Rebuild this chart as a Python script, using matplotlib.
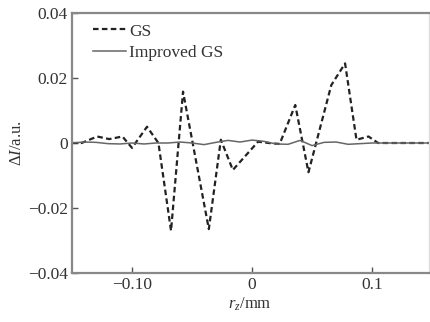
import matplotlib
matplotlib.use("Agg")
import matplotlib.pyplot as plt

plt.rcParams['font.family'] = ['Liberation Serif', 'DejaVu Serif']
plt.rcParams['mathtext.fontset'] = 'custom'
plt.rcParams['mathtext.rm'] = 'Liberation Serif'
plt.rcParams['mathtext.it'] = 'Liberation Serif:italic'

gs_x = [-0.15, -0.142, -0.129, -0.119, -0.108, -0.100, -0.0875, -0.078, -0.0675, -0.0575,
        -0.036, -0.026, -0.016, 0.005, 0.014, 0.023, 0.036, 0.047, 0.066, 0.0775,
        0.087, 0.097, 0.105, 0.115, 0.13, 0.15]
gs_y = [0, 0, 0.002, 0.0012, 0.002, -0.0015, 0.005, 0, -0.027, 0.0158,
        -0.0265, 0.001, -0.0083, 0.0004, 0, -0.0003, 0.0117, -0.009, 0.0178, 0.0245,
        0.001, 0.002, 0, 0, 0, 0]

imp_x = [-0.15, -0.14, -0.13, -0.12, -0.11, -0.10, -0.09, -0.08, -0.07, -0.06, -0.05,
         -0.04, -0.03, -0.02, -0.01, 0.0, 0.01, 0.02, 0.03, 0.04, 0.05, 0.06, 0.07,
         0.08, 0.09, 0.10, 0.11, 0.12, 0.15]
imp_y = [0, 0.0003, 0.0002, -0.0002, -0.0003, 0, -0.0003, 0, 0, 0.0003, 0,
         -0.0005, 0.0002, 0.0008, 0.0003, 0.0009, 0.0005, -0.0003, -0.0004, 0.0008, -0.0008,
         0.0002, 0.0003, -0.0004, -0.0002, 0, 0, 0, 0]

xticks = [-0.10, 0, 0.1]
xtick_labels = ['\u22120.10', '0', '0.1']
yticks = [-0.04, -0.02, 0, 0.02, 0.04]
ytick_labels = ['\u22120.04', '\u22120.02', '0', '0.02', '0.04']

fig = plt.figure(figsize=(4.30, 3.22), dpi=100)
ax = fig.add_axes([72/430, 1-273/322, (428.5-72)/430, (273-13)/322])

ax.plot(gs_x, gs_y, color='#222222', lw=1.6, ls=(0, (2.5, 1.5)), label='GS')
ax.plot(imp_x, imp_y, color='#666666', lw=1.1, ls='-', label='Improved GS')

ax.set_xlim(-0.15, 0.147)
ax.set_ylim(-0.04, 0.04)
ax.set_xticks(xticks)
ax.set_xticklabels(xtick_labels)
ax.set_yticks(yticks)
ax.set_yticklabels(ytick_labels)
ax.tick_params(direction='in', length=4, width=1, colors='#555555', labelcolor='#333333',
               labelsize=12.5, pad=3)

for s in ['left', 'bottom', 'top']:
    ax.spines[s].set_color('#888888')
    ax.spines[s].set_linewidth(1.6)
ax.spines['right'].set_color('#dddddd')
ax.spines['right'].set_linewidth(1.0)

ax.set_xlabel(r'$r_z$/mm', fontsize=12, color='#333333', labelpad=2)
ax.set_ylabel(r'$\Delta I$/a.u.', fontsize=12, color='#333333', labelpad=2)

leg = ax.legend(loc='upper left', frameon=False, fontsize=12.5, handlelength=1.9,
                handletextpad=0.15, labelspacing=0.3, borderaxespad=0.0, borderpad=0.3,
                bbox_to_anchor=(0.045, 0.98))
for t in leg.get_texts():
    t.set_color('#333333')

fig.savefig('out.png', dpi=100)
